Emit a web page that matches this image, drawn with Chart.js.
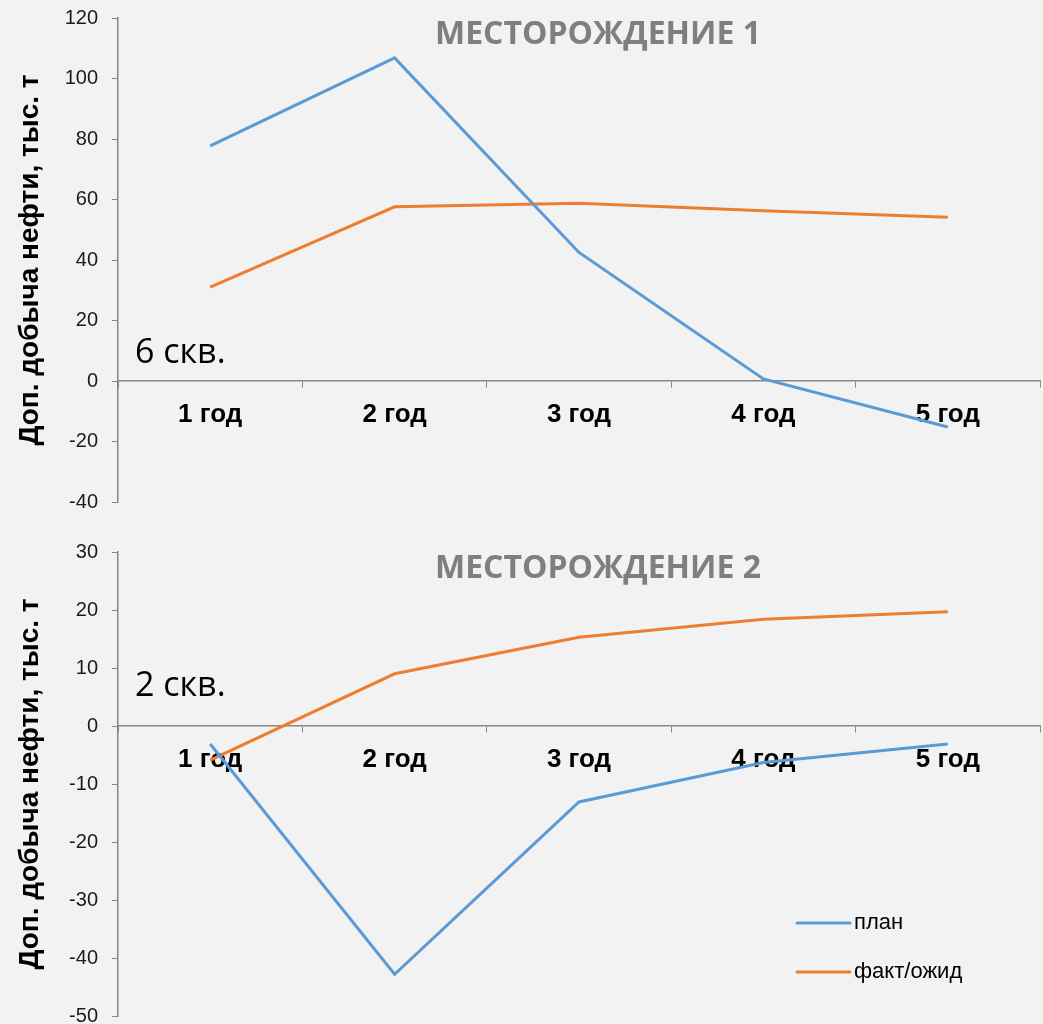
<!DOCTYPE html>
<html lang="ru">
<head>
<meta charset="utf-8">
<script src="https://cdn.jsdelivr.net/npm/chart.js@4.4.1/dist/chart.umd.min.js"></script>
<style>
  html, body { margin: 0; padding: 0; background: #f2f2f2; }
  .box { position: relative; width: 1043px; overflow: hidden; }
  #top { height: 520px; }
  #bottom { height: 504px; }
</style>
</head>
<body>
<div class="box" id="top"><canvas id="chart1" width="1043" height="520"></canvas></div>
<div class="box" id="bottom"><canvas id="chart2" width="1043" height="520"></canvas></div>
<script>
const years = ['1 год', '2 год', '3 год', '4 год', '5 год'];
const seriesNames = ['план', 'факт/ожид'];

// месторождение 1, тыс. т
const field1Plan = [77.7, 106.8, 42.5, 0.7, -15.2];
const field1Fact = [31, 57.6, 58.8, 56.3, 54.1];
const field1Ticks = [-40, 120, 20];

// месторождение 2, тыс. т
const field2Plan = [-3.1, -42.8, -13.1, -6.3, -3.1];
const field2Fact = [-5.9, 9, 15.3, 18.4, 19.7];
const field2Ticks = [-50, 30, 10];

const axisColor = '#868686';
const planColor = '#5b9bd5';
const factColor = '#ed7d31';

// title, well count and (optionally) legend drawn straight on the canvas
const fieldText = {
  id: 'fieldText',
  afterDraw(chart, args, opts) {
    const ctx = chart.ctx;
    const area = chart.chartArea;
    const y = chart.scales.y;
    ctx.save();
    ctx.textBaseline = 'middle';

    ctx.fillStyle = '#7f7f7f';
    ctx.font = 'bold 32px "Open Sans"';
    ctx.textAlign = 'center';
    ctx.fillText(opts.title, area.left + 480, area.top + 17);

    ctx.fillStyle = '#000';
    ctx.font = '34px "Open Sans"';
    ctx.textAlign = 'left';
    ctx.fillText(opts.note, area.left + 17, y.getPixelForValue(opts.noteAt));

    if (opts.legend) {
      ctx.font = '22px Arial';
      chart.data.datasets.forEach((ds, i) => {
        const ly = area.bottom - 93 + i * 49;
        const lx = area.right - 243;
        ctx.strokeStyle = ds.borderColor;
        ctx.lineWidth = 3;
        ctx.lineCap = 'round';
        ctx.beginPath();
        ctx.moveTo(lx, ly);
        ctx.lineTo(lx + 53, ly);
        ctx.stroke();
        ctx.fillStyle = '#000';
        ctx.fillText(ds.label, lx + 57, ly);
      });
    }
    ctx.restore();
  }
};

function makeChart(id, plan, fact, ticks, text, pad) {
  return new Chart(document.getElementById(id), {
    type: 'line',
    data: {
      labels: years,
      datasets: [
        { label: seriesNames[0], data: plan, borderColor: planColor, borderWidth: 3, pointRadius: 0, tension: 0 },
        { label: seriesNames[1], data: fact, borderColor: factColor, borderWidth: 3, pointRadius: 0, tension: 0 }
      ]
    },
    options: {
      responsive: false,
      animation: false,
      layout: { padding: { left: 0, right: 3, top: pad[0], bottom: pad[1] } },
      plugins: {
        legend: { display: false },
        tooltip: { enabled: false },
        fieldText: text
      },
      scales: {
        x: {
          position: { y: 0 },
          offset: true,
          grid: { display: true, drawOnChartArea: false, offset: true, tickLength: 6, color: axisColor },
          border: { display: true, color: axisColor, width: 1.5 },
          ticks: { color: '#000', font: { family: 'Arial', size: 26, weight: 'bold' }, padding: 12 }
        },
        y: {
          min: ticks[0],
          max: ticks[1],
          afterFit(scale) {
            scale.width = 118;
            // end labels may hang outside the plot, the padding sets the plot box
            scale.paddingTop = 0;
            scale.paddingBottom = 0;
          },
          grid: { display: true, drawOnChartArea: false, tickLength: 6, color: axisColor },
          border: { display: true, color: axisColor, width: 1.5 },
          ticks: { stepSize: ticks[2], color: '#1a1a1a', font: { family: 'Arial', size: 20 }, padding: 14 },
          title: {
            display: true,
            text: 'Доп. добыча нефти, тыс. т',
            color: '#000',
            font: { family: 'Arial', size: 28, weight: 'bold' },
            padding: { top: 13, bottom: 0 }
          }
        }
      }
    },
    plugins: [fieldText]
  });
}

makeChart('chart1', field1Plan, field1Fact, field1Ticks,
  { title: 'МЕСТОРОЖДЕНИЕ 1', note: '6 скв.', noteAt: 9.3, legend: false }, [18, 18]);
makeChart('chart2', field2Plan, field2Fact, field2Ticks,
  { title: 'МЕСТОРОЖДЕНИЕ 2', note: '2 скв.', noteAt: 6.9, legend: true }, [32, 24]);
</script>
</body>
</html>
